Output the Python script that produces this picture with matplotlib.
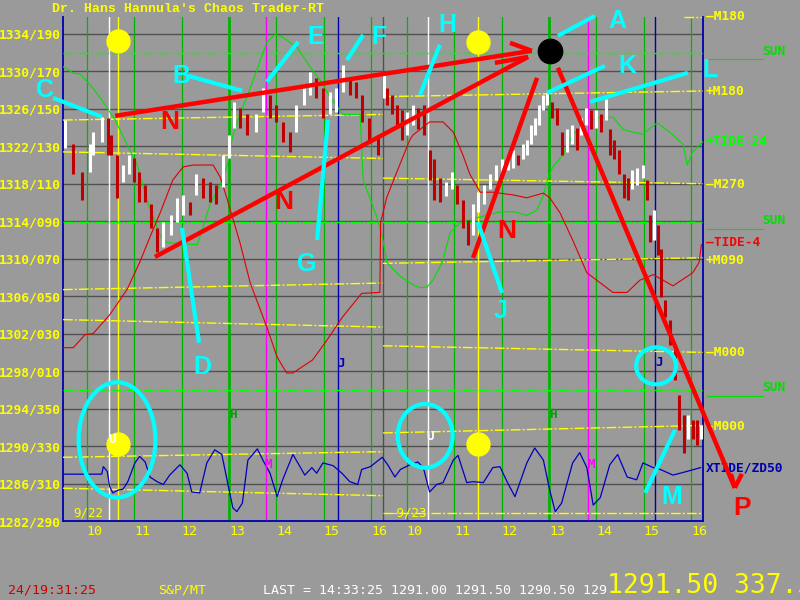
import numpy as np
import matplotlib
matplotlib.use("Agg")
import matplotlib.pyplot as plt
from matplotlib.patches import Ellipse

# ---- data (prices, minutes after the 9:30 open) ----
TITLE = "Dr. Hans Hannula's Chaos Trader-RT"
PRICE_TICKS = [1334, 1330, 1326, 1322, 1318, 1314, 1310, 1306, 1302, 1298, 1294, 1290, 1286, 1282]
PRICE_LABELS = ["1334/190", "1330/170", "1326/150", "1322/130", "1318/110", "1314/090", "1310/070",
                "1306/050", "1302/030", "1298/010", "1294/350", "1290/330", "1286/310", "1282/290"]
HOURS = [10, 11, 12, 13, 14, 15, 16]
DAYS = ["9/22", "9/23"]

DAY1_MIN = [3, 13, 24, 34, 38, 49, 57, 61, 68, 76, 84, 90, 96, 104, 111, 119, 127, 137, 144, 152,
            161, 168, 177, 186, 194, 203, 210, 216, 224, 233, 244, 253, 262, 270, 278, 287, 295, 305,
            313, 320, 329, 338, 346, 354, 363, 371, 378, 387, 399]
DAY1_LOW = [1321.8, 1319.0, 1316.3, 1319.3, 1321.1, 1322.5, 1321.1, 1321.1, 1316.5, 1318.2, 1319.0,
            1318.2, 1316.1, 1316.1, 1313.3, 1310.7, 1311.2, 1312.5, 1313.9, 1314.7, 1314.7, 1316.8,
            1316.5, 1316.1, 1315.8, 1317.6, 1320.8, 1324.0, 1324.0, 1323.2, 1323.5, 1325.7, 1325.0,
            1324.6, 1322.5, 1321.4, 1323.5, 1326.4, 1327.5, 1327.2, 1325.0, 1325.4, 1325.7, 1327.8,
            1327.5, 1327.2, 1324.6, 1322.5, 1321.1]
DAY1_HIGH = [1324.8, 1322.2, 1319.3, 1322.2, 1323.5, 1325.1, 1325.0, 1323.2, 1321.1, 1320.0, 1321.1,
             1320.8, 1319.3, 1317.9, 1315.8, 1313.3, 1313.9, 1314.7, 1316.5, 1316.8, 1316.1, 1319.0,
             1318.6, 1318.2, 1317.9, 1321.1, 1323.2, 1326.7, 1326.1, 1325.4, 1325.4, 1328.2, 1327.5,
             1326.4, 1324.6, 1323.5, 1326.4, 1328.2, 1329.9, 1329.3, 1328.2, 1327.8, 1328.2, 1330.7,
             1329.3, 1328.9, 1327.5, 1325.0, 1323.2]

DAY2_MIN = [1, 5, 11, 18, 24, 30, 38, 44, 52, 59, 65, 72, 80, 87, 94, 101, 108, 114, 120, 128, 135,
            143, 151, 158, 165, 171, 177, 182, 187, 192, 197, 203, 208, 214, 220, 227, 233, 239, 246,
            251, 257, 263, 270, 276, 282, 287, 292, 299, 305, 310, 315, 321, 329, 334, 338, 343, 348,
            352, 357, 363, 370, 375, 381, 386, 392, 398, 403]
DAY2_LOW = [1327.2, 1326.4, 1325.4, 1324.0, 1322.7, 1323.2, 1324.3, 1323.8, 1323.2, 1318.4, 1316.3,
            1316.1, 1316.7, 1317.4, 1315.8, 1313.3, 1311.5, 1312.5, 1315.0, 1315.8, 1317.4, 1318.4,
            1319.0, 1319.5, 1319.7, 1320.0, 1320.6, 1321.1, 1322.2, 1323.2, 1324.3, 1325.9, 1326.4,
            1325.0, 1324.3, 1321.1, 1321.4, 1322.2, 1321.6, 1323.2, 1324.3, 1323.8, 1324.0, 1323.5,
            1324.8, 1321.1, 1320.6, 1319.0, 1316.5, 1316.3, 1317.4, 1317.9, 1318.6, 1316.3, 1311.8,
            1312.0, 1310.4, 1305.9, 1303.8, 1300.8, 1297.1, 1291.7, 1289.3, 1290.7, 1290.7, 1290.1,
            1290.7]
DAY2_HIGH = [1329.6, 1328.2, 1327.5, 1326.4, 1325.9, 1325.7, 1326.4, 1326.1, 1326.4, 1321.6, 1320.6,
             1318.6, 1318.2, 1319.3, 1317.9, 1316.3, 1314.1, 1315.8, 1317.1, 1317.9, 1319.0, 1320.0,
             1320.6, 1321.1, 1321.6, 1321.1, 1322.2, 1322.7, 1324.3, 1325.0, 1326.4, 1327.5, 1327.7,
             1326.7, 1326.1, 1323.5, 1323.8, 1324.3, 1324.0, 1325.0, 1326.1, 1325.9, 1325.9, 1325.4,
             1327.0, 1323.8, 1322.7, 1321.6, 1319.0, 1318.6, 1319.5, 1319.7, 1320.0, 1318.4, 1314.7,
             1315.2, 1313.6, 1311.0, 1305.6, 1303.5, 1300.3, 1295.5, 1293.3, 1293.3, 1292.8, 1292.8,
             1292.3]

# +TIDE-24 (green)
GREEN_D1_MIN = [0, 13, 22, 38, 51, 66, 81, 94, 108, 123, 132, 170, 177, 186, 199, 208, 215, 224, 237,
                249, 258, 268, 277, 296, 315, 325, 338, 354, 376, 380, 397, 405]
GREEN_D1_VAL = [1330.5, 1329.8, 1329.7, 1328.2, 1326.7, 1324.8, 1322.2, 1320.0, 1315.8, 1312.5, 1311.7,
                1311.5, 1313.3, 1315.8, 1317.9, 1320.0, 1323.2, 1325.4, 1328.2, 1331.0, 1333.1, 1333.9,
                1333.7, 1332.6, 1330.2, 1329.1, 1327.3, 1325.4, 1325.4, 1318.4, 1314.5, 1312.0]
GREEN_D2_MIN = [5, 22, 38, 47, 56, 63, 75, 85, 97, 120, 148, 167, 182, 195, 203, 209, 215, 228, 240,
                253, 266, 275, 291, 304, 316, 329, 347, 363, 380, 385, 392, 405]
GREEN_D2_VAL = [1309.6, 1308.1, 1307.2, 1306.9, 1307.0, 1307.7, 1309.6, 1312.8, 1313.8, 1314.4, 1315.0,
                1315.0, 1314.6, 1315.2, 1316.8, 1318.7, 1319.8, 1321.1, 1323.3, 1324.0, 1324.8, 1325.1,
                1325.1, 1323.8, 1323.5, 1323.3, 1324.5, 1323.5, 1322.2, 1320.0, 1321.4, 1322.5]

# -TIDE-4 (red)
RED_D1_MIN = [0, 13, 28, 38, 59, 81, 97, 110, 123, 139, 152, 165, 190, 199, 208, 224, 237, 258, 271,
              283, 291, 316, 334, 354, 378, 401, 402]
RED_D1_VAL = [1300.5, 1300.5, 1301.9, 1302.0, 1304.0, 1306.7, 1309.6, 1312.3, 1314.9, 1318.4, 1319.8,
              1320.0, 1320.0, 1318.7, 1316.3, 1311.7, 1307.4, 1302.7, 1299.5, 1297.8, 1297.8, 1299.2,
              1301.3, 1303.8, 1306.3, 1306.4, 1313.9]
RED_D2_MIN = [5, 22, 34, 38, 59, 76, 89, 101, 110, 123, 139, 165, 182, 203, 211, 224, 240, 258, 291,
              309, 325, 342, 367, 392, 400, 403]
RED_D2_VAL = [1316.6, 1320.2, 1322.7, 1323.2, 1324.6, 1324.6, 1323.5, 1321.1, 1319.0, 1317.1, 1317.1,
              1316.8, 1316.5, 1317.0, 1316.5, 1314.9, 1312.0, 1308.5, 1306.4, 1306.4, 1307.7, 1308.3,
              1307.1, 1308.5, 1309.6, 1311.5]

# XTIDE/ZD50 (blue)
BLUE_D1_MIN = [0, 49, 51, 56, 59, 63, 70, 76, 82, 91, 97, 104, 110, 119, 127, 135, 148, 157, 163, 173,
               182, 192, 201, 211, 215, 220, 227, 234, 246, 253, 262, 271, 278, 291, 302, 306, 315,
               321, 329, 342, 353, 363, 373, 378, 389, 404]
BLUE_D1_VAL = [1287.0, 1287.0, 1287.8, 1287.3, 1285.7, 1285.0, 1285.3, 1285.4, 1286.2, 1288.2, 1288.9,
               1288.3, 1286.7, 1286.2, 1285.9, 1286.9, 1288.0, 1287.1, 1285.1, 1285.0, 1288.2, 1289.6,
               1289.1, 1285.0, 1283.4, 1283.0, 1283.9, 1288.5, 1289.7, 1288.5, 1287.1, 1284.6, 1286.4,
               1289.1, 1287.5, 1286.9, 1287.7, 1287.1, 1288.2, 1287.9, 1287.1, 1286.2, 1285.9, 1287.5,
               1287.8, 1288.8]
BLUE_D2_MIN = [6, 15, 22, 34, 44, 51, 59, 68, 76, 89, 95, 106, 114, 127, 139, 148, 157, 167, 182, 192,
               203, 211, 218, 226, 240, 249, 258, 266, 275, 287, 297, 309, 321, 329, 342, 351, 367,
               385, 402]
BLUE_D2_VAL = [1288.0, 1286.7, 1287.5, 1288.0, 1288.3, 1287.7, 1285.1, 1285.9, 1286.1, 1288.5, 1289.0,
               1286.1, 1286.2, 1286.1, 1287.7, 1287.8, 1286.2, 1284.6, 1288.2, 1289.8, 1288.5, 1285.3,
               1283.0, 1283.9, 1288.2, 1289.3, 1287.7, 1283.7, 1284.5, 1288.0, 1289.1, 1286.7, 1286.4,
               1288.2, 1287.7, 1287.5, 1286.9, 1287.3, 1287.7]

# moon levels (yellow) start/end price per day, sun levels (green)
MOON_D1 = [(1324.8, 1325.4), (1321.4, 1320.7), (1306.7, 1307.4), (1303.5, 1302.7), (1288.8, 1289.4), (1285.5, 1284.7)]
MOON_D2 = [(1327.3, 1327.9), (1318.6, 1318.0), (1309.5, 1310.1), (1300.7, 1300.0), (1291.4, 1292.2), (1282.9, 1282.9)]
SUN_LEVELS = [1332.0, 1313.9, 1296.0]

# event times (clock hours) for day 1, day 2
WHITE_EVT = [10.47, 10.45]
YELLOW_EVT = [10.66, 11.50]
MAGENTA_EVT = [13.78, 13.82]
BLUE_EVT = [15.30, 15.24]

RIGHT_LABELS = [("\u2013M180", 1335.8, "#ffff00"), ("+M180", 1327.9, "#ffff00"),
                ("+TIDE-24", 1322.5, "#00ff00"), ("\u2013M270", 1317.9, "#ffff00"),
                ("\u2013TIDE-4", 1311.7, "#ff0000"), ("+M090", 1309.8, "#ffff00"),
                ("\u2013M000", 1300.0, "#ffff00"), ("-M000", 1292.1, "#ffff00"),
                ("XTIDE/ZD50", 1287.7, "#0000b0")]
SUN_LABEL_Y = [1332.1, 1314.1, 1296.2]

# hand drawn annotations, (session hour, price)
RED_STROKES = [((10.60, 1325.25), (19.39, 1332.19)), ((11.44, 1310.19), (19.31, 1331.54)),
               ((18.93, 1333.04), (19.39, 1332.19)), ((18.61, 1330.90), (19.31, 1331.54)),
               ((18.15, 1310.09), (19.50, 1329.30)), ((19.94, 1330.37), (23.67, 1285.54)),
               ((23.59, 1287.03), (23.67, 1285.54)), ((23.82, 1287.03), (23.67, 1285.54))]
RED_LETTERS = [("N", 11.76, 1324.6), ("N", 14.16, 1316.0), ("N", 18.87, 1313.0), ("P", 23.82, 1283.4)]
CYAN_STROKES = {"A": ((19.94, 1333.79), (20.72, 1335.92), (21.19, 1335.4)),
                "B": ((12.14, 1329.52), (13.28, 1327.92), (11.99, 1329.5)),
                "C": ((9.29, 1327.17), (10.32, 1325.14), (9.12, 1328.0)),
                "D": ((12.01, 1313.29), (12.37, 1301.01), (12.45, 1298.45)),
                "E": ((13.80, 1328.88), (14.46, 1333.15), (14.84, 1333.7)),
                "F": ((15.49, 1331.22), (15.83, 1333.89), (16.17, 1333.7)),
                "G": ((14.86, 1312.01), (15.09, 1324.82), (14.63, 1309.45)),
                "H": ((17.03, 1327.49), (17.45, 1332.83), (17.60, 1334.96)),
                "J": ((18.25, 1313.93), (18.76, 1306.35), (18.74, 1304.43)),
                "K": ((19.71, 1327.70), (20.93, 1330.58), (21.40, 1330.58)),
                "L": ((20.62, 1326.74), (22.68, 1329.84), (23.15, 1330.16)),
                "M": ((21.78, 1285.00), (22.41, 1291.73), (22.35, 1284.57))}
CYAN_RINGS = [(10.64, 1290.66, 1.62, 12.3), (17.14, 1291.09, 1.16, 6.8), (22.01, 1298.56, 0.84, 3.95)]
YELLOW_DOTS = [(10.66, 1333.25), (18.25, 1333.15), (10.66, 1290.23), (18.25, 1290.23)]
BLACK_DOT = (19.77, 1332.19)
SMALL_MARKS = [("U", 10.53, 1290.66, "white"), ("U", 17.24, 1290.98, "white"),
               ("H", 13.09, 1293.33, "#00a000"), ("H", 19.84, 1293.33, "#00a000"),
               ("M", 13.82, 1287.99, "#ff00ff"), ("M", 20.64, 1287.99, "#ff00ff"),
               ("J", 15.36, 1298.77, "#0000b0"), ("J", 22.07, 1298.88, "#0000b0")]

BG = "#9a9a9a"
MONO = "DejaVu Sans Mono"
DAY_OFF = [9.5, 16.25]


def sess(mins, day):
    return DAY_OFF[day] + np.asarray(mins) / 60.0


fig = plt.figure(figsize=(8, 6), dpi=100, facecolor=BG)
ax = fig.add_axes([63 / 800, 79 / 600, 640 / 800, 504 / 600], facecolor=BG)
ax.set_xlim(9.5, 23.0)
ax.set_ylim(1282, 1335.8)
for side in ["left", "right", "bottom"]:
    ax.spines[side].set_color("#0000b0")
    ax.spines[side].set_linewidth(1.3)
ax.spines["top"].set_visible(False)

# grid
for p in PRICE_TICKS:
    ax.axhline(p, color="#505050", lw=1, zorder=1)
ax.axvline(16.25, color="#505050", lw=1, zorder=1)
for d in range(2):
    for h in HOURS:
        ax.axvline(h + d * 6.75, color="#00b400", lw=2 if h == 13 else 0.9, zorder=2)
    ax.axvline(WHITE_EVT[d] + d * 6.75, color="white", lw=1, zorder=2)
    ax.axvline(YELLOW_EVT[d] + d * 6.75, color="#ffff00", lw=1, zorder=2)
    ax.axvline(MAGENTA_EVT[d] + d * 6.75, color="#ff00ff", lw=1, zorder=2)
    ax.axvline(BLUE_EVT[d] + d * 6.75, color="#0000b0", lw=1, zorder=2)

# sun and moon levels
dashdot = (0, (7, 1.5, 1.5, 1.5))
for p in SUN_LEVELS:
    ax.plot([9.5, 23.0], [p, p], color="#00ff00", lw=1, ls=dashdot, zorder=3)
for d, levels in enumerate([MOON_D1, MOON_D2]):
    for a, b in levels:
        ax.plot([DAY_OFF[d], DAY_OFF[d] + 6.75], [a, b], color="#ffff00", lw=1, ls=dashdot, zorder=3)
ax.plot([22.6, 23.0], [1335.8, 1335.8], color="#ffff00", lw=1, ls=dashdot, clip_on=False)

# tide curves
ax.plot(np.concatenate([sess(GREEN_D1_MIN, 0), sess(GREEN_D2_MIN, 1)]), GREEN_D1_VAL + GREEN_D2_VAL,
        color="#00e000", lw=0.8, zorder=4)
ax.plot(np.concatenate([sess(RED_D1_MIN, 0), sess(RED_D2_MIN, 1)]), RED_D1_VAL + RED_D2_VAL,
        color="#e00000", lw=0.8, zorder=4)
ax.plot(np.concatenate([sess(BLUE_D1_MIN, 0), sess(BLUE_D2_MIN, 1)]), BLUE_D1_VAL + BLUE_D2_VAL,
        color="#0000c0", lw=0.9, zorder=4)

# price bars
bt = np.concatenate([sess(DAY1_MIN, 0), sess(DAY2_MIN, 1)])
lo = np.array(DAY1_LOW + DAY2_LOW)
hi = np.array(DAY1_HIGH + DAY2_HIGH)
mid = (lo + hi) / 2
cols = ["white" if i == 0 or mid[i] >= mid[i - 1] else "#c00000" for i in range(len(mid))]
ax.vlines(bt, lo, hi, colors=cols, lw=2.2, zorder=5)

# ticks
ax.set_yticks(PRICE_TICKS)
ax.set_yticklabels(PRICE_LABELS, family=MONO, weight="bold", fontsize=9.3, color="#ffff00")
xt = [h + d * 6.75 for d in range(2) for h in HOURS]
ax.set_xticks(xt)
ax.set_xticklabels([str(h) for d in range(2) for h in HOURS], family=MONO, fontsize=9.5, color="#ffff00")
for lbl in ax.get_xticklabels():
    lbl.set_ha("left")
ax.tick_params(length=0, pad=1.5)
ax.tick_params(axis="x", pad=3)

ax.text(9.72, 1282.9, DAYS[0], color="#ffff00", family=MONO, fontsize=9, va="center", zorder=6)
ax.text(16.40, 1282.9, "-" + DAYS[1], color="#ffff00", family=MONO, fontsize=9, va="center", zorder=6)

# right side labels
for txt, p, c in RIGHT_LABELS:
    ax.text(23.06, p, txt, color=c, family=MONO, weight="bold", fontsize=9.3, va="center", clip_on=False)
for p, py in zip(SUN_LEVELS, SUN_LABEL_Y):
    ax.plot([23.08, 24.26], [p - 0.7, p - 0.7], color="#00e000", lw=0.8, clip_on=False)
    ax.text(24.26, py, "SUN", color="#00e000", family=MONO, weight="bold", fontsize=9.3, va="center",
            clip_on=False)

# annotations
for (x0, y0), (x1, y1) in RED_STROKES:
    ax.plot([x0, x1], [y0, y1], color="#ff0000", lw=3.2, solid_capstyle="butt", zorder=8, clip_on=False)
for ch, x, y in RED_LETTERS:
    ax.text(x, y, ch, color="#ff0000", family="Liberation Sans", weight="bold", fontsize=19,
            ha="center", va="center", zorder=9, clip_on=False)
for ch, ((x0, y0), (x1, y1), (tx, ty)) in CYAN_STROKES.items():
    ax.plot([x0, x1], [y0, y1], color="#00ffff", lw=3, solid_capstyle="butt", zorder=8, clip_on=False)
    ax.text(tx, ty, ch, color="#00ffff", family="Liberation Sans", weight="bold", fontsize=18,
            ha="center", va="center", zorder=9, clip_on=False)
for x, y, w, h in CYAN_RINGS:
    ax.add_patch(Ellipse((x, y), w, h, fill=False, ec="#00ffff", lw=3, zorder=8))
for x, y in YELLOW_DOTS:
    ax.plot(x, y, "o", ms=16.5, color="#ffff00", mec="#ffff00", zorder=7)
ax.plot(*BLACK_DOT, "o", ms=17.5, color="black", zorder=9)
for ch, x, y, c in SMALL_MARKS:
    ax.text(x, y, ch, color=c, family=MONO, weight="bold", fontsize=9, ha="center", va="center", zorder=9)

# header and status line
fig.text(52 / 800, 1 - 9 / 600, TITLE, color="#ffff00", family="Liberation Mono", weight="bold",
         fontsize=9.5, va="center")
fig.text(8 / 800, 10 / 600, "24/19:31:25", color="#cc0000", family=MONO, fontsize=9.5, va="center")
fig.text(158 / 800, 10 / 600, "S&P/MT", color="#ffff00", family=MONO, fontsize=9.5, va="center")
fig.text(263 / 800, 10 / 600, "LAST = 14:33:25 1291.00 1291.50 1290.50 129", color="white",
         family=MONO, fontsize=9.5, va="center")
fig.text(607 / 800, 1 / 600, "1291.50 337.5", color="#ffff00", family=MONO, fontsize=19, va="bottom")

fig.savefig("out.png", dpi=100, facecolor=BG)
